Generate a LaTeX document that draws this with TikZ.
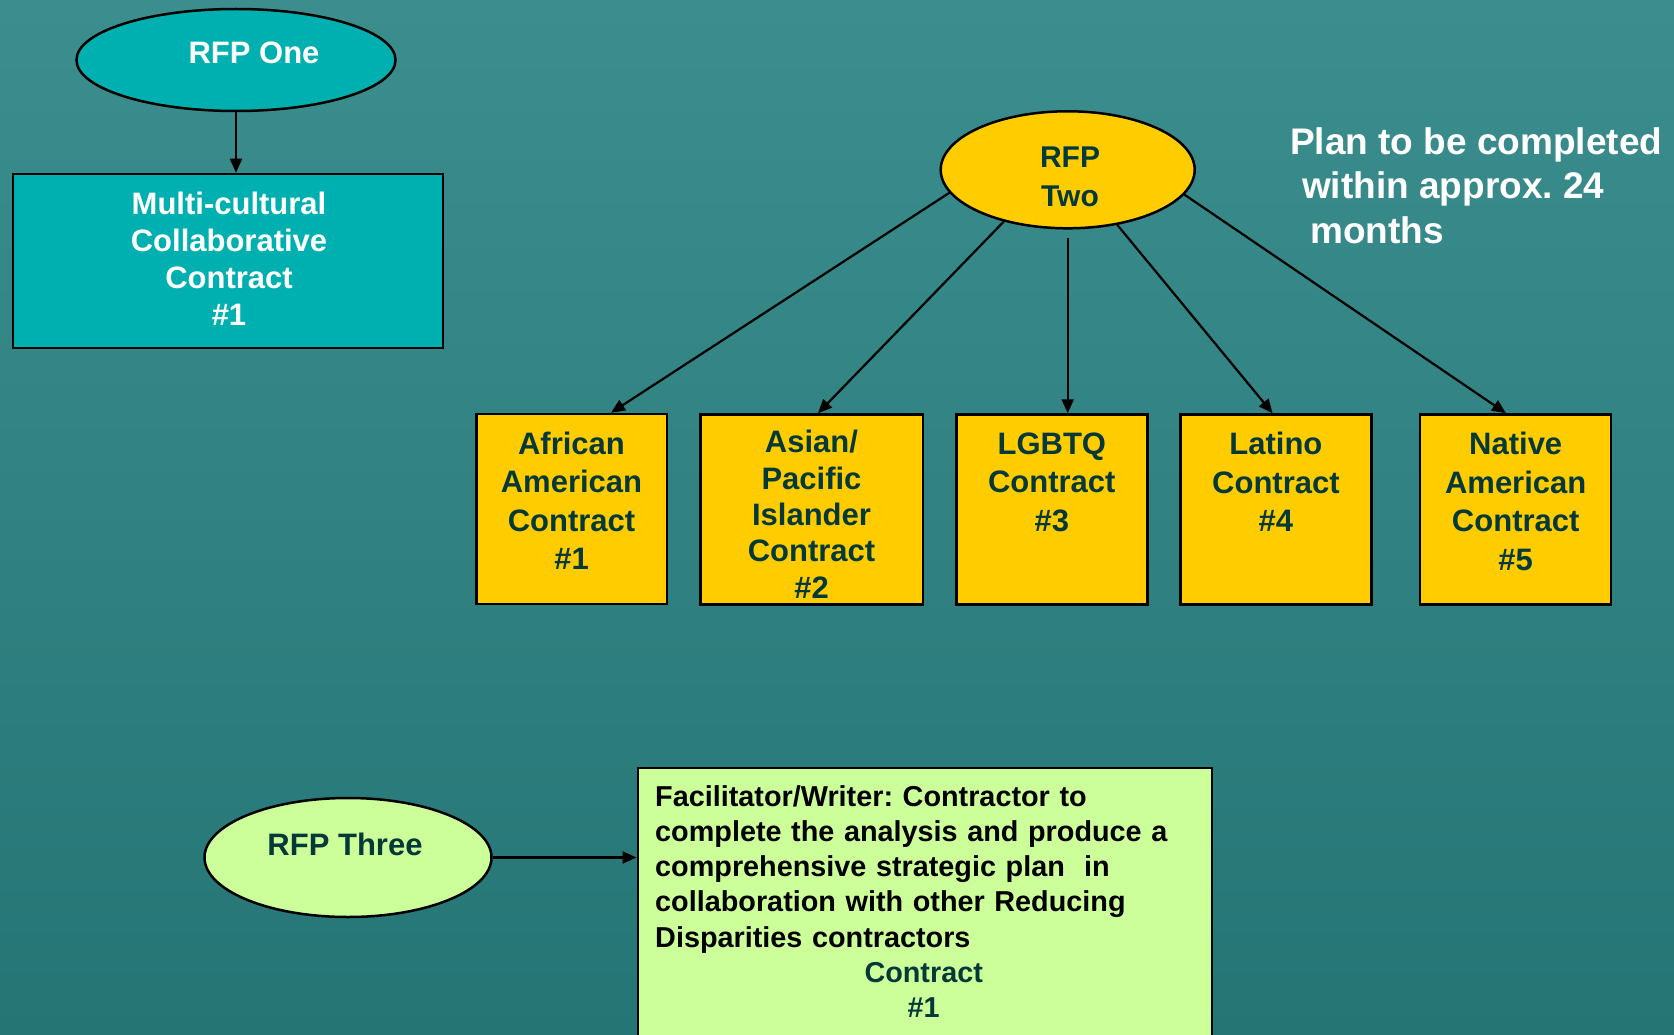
\documentclass[tikz,border=0pt]{standalone}
\usepackage{fontspec}
\setmainfont{Liberation Sans}
\usetikzlibrary{shapes.geometric,arrows.meta,calc}
\frenchspacing
\definecolor{bgtop}{HTML}{3C8E8E}
\definecolor{bgmid}{HTML}{338484}
\definecolor{bgbot}{HTML}{257575}
\definecolor{tealfill}{HTML}{00B0B0}
\definecolor{yellfill}{HTML}{FFCC00}
\definecolor{greenfill}{HTML}{CCFF99}
\definecolor{darkteal}{HTML}{053838}
\tikzset{
  shapeline/.style={draw=black, line width=2.5pt, inner sep=0pt},
  tealell/.style={shapeline, ellipse, fill=tealfill},
  yellell/.style={shapeline, ellipse, fill=yellfill},
  greenell/.style={shapeline, ellipse, fill=greenfill},
  tealbox/.style={shapeline, rectangle, fill=tealfill},
  ybox/.style={shapeline, rectangle, fill=yellfill, minimum width=191pt, minimum height=190pt},
  greenbox/.style={shapeline, rectangle, fill=greenfill},
  whitetext/.style={text=white, inner sep=0pt, font=\bfseries\fontsize{31}{37}\selectfont},
  darktext/.style={text=darkteal, inner sep=0pt, font=\bfseries\fontsize{31}{37}\selectfont},
  btext/.style={text=darkteal, inner sep=0pt, align=center, anchor=north, font=\bfseries\fontsize{31}{38.5}\selectfont},
  conn/.style={draw=black, line width=2.2pt, -{Triangle[length=14pt,width=12pt]}},
}
\begin{document}
\begin{tikzpicture}[x=1pt,y=-1pt]
\clip (0,0) rectangle (1674,1035);
\shade[top color=bgtop, middle color=bgmid, bottom color=bgbot] (0,0) rectangle (1674,1035);

% RFP One
\node[tealell, minimum width=319pt, minimum height=102pt] (r1) at (236,60) {};
\node[whitetext] (r1t) at (254,53) {RFP One};
\node[tealbox, minimum width=430pt, minimum height=174pt] (mc) at (228,261) {};
\node[whitetext, align=center, anchor=north] (mct) at (229,192) {Multi-cultural\\Collaborative\\Contract\\\#1};
\draw[conn] (r1.south) -- (r1.south |- mc.north);

% RFP Two
\node[yellell, minimum width=254pt, minimum height=117pt] (r2) at (1067.7,169.8) {};
\node[darktext, align=center, anchor=north, font=\bfseries\fontsize{30}{39}\selectfont] (r2t) at (1070,147) {RFP\\Two};

\node[ybox, minimum width=190.5pt] (b1) at (571.5,509) {};
\node[ybox, minimum width=222.5pt] (b2) at (811.5,509.5) {};
\node[ybox] (b3) at (1051.8,509.5) {};
\node[ybox] (b4) at (1275.9,509.5) {};
\node[ybox] (b5) at (1515.7,509.5) {};

\node[btext] (b1t) at ($(b1.north)+(0,19)$) {African\\American\\Contract\\\#1};
\node[btext, font=\bfseries\fontsize{31}{36.3}\selectfont] (b2t) at ($(b2.north)+(0,17)$) {Asian/\\Pacific\\Islander\\Contract\\\#2};
\node[btext] (b3t) at ($(b3.north)+(0,19)$) {LGBTQ\\Contract\\\#3};
\node[btext] (b4t) at ($(b4.north)+(0,19)$) {Latino\\Contract\\\#4};
\node[btext] (b5t) at ($(b5.north)+(0,19)$) {Native\\American\\Contract\\\#5};

\draw[conn] (r2.191.9) -- ($(b1.north)+(39.5,0)$);
\draw[conn] (r2.219.1) -- ($(b2.north)+(6.5,0)$);
\draw[conn, shorten <=8.5pt] (r2.south) -- (r2.south |- b3.north);
\draw[conn] (r2.312.4) -- ($(b4.north)+(-3.3,0)$);
\draw[conn] (r2.348.1) -- ($(b5.north)+(-9.7,0)$);

\node[whitetext, align=left, anchor=north west, font=\bfseries\fontsize{37}{44.5}\selectfont] (plan) at (1290,127) {Plan to be completed\\\hspace*{12pt}within approx. 24\\\hspace*{20pt}months};

% RFP Three
\node[greenell, minimum width=287pt, minimum height=119pt] (r3) at (348,857.5) {};
\node[darktext] (r3t) at (345,844.5) {RFP Three};
\node[greenbox, anchor=north west, minimum width=574pt, minimum height=320pt] (fw) at (636.5,766.5) {};
\draw[conn] (r3.east) -- (r3.east -| fw.west);
\node[anchor=north west, text width=537pt, align=left, inner sep=0pt, text=black, font=\bfseries\fontsize{28.8}{35.3}\selectfont] (fwt) at (655,785) {Facilitator/Writer: Contractor to\\complete the analysis and produce a\\comprehensive strategic plan\ \ in\\collaboration with other Reducing\\Disparities contractors\\\makebox[\linewidth]{\color{darkteal}Contract}\\\makebox[\linewidth]{\color{darkteal}\#1}};
\end{tikzpicture}
\end{document}
